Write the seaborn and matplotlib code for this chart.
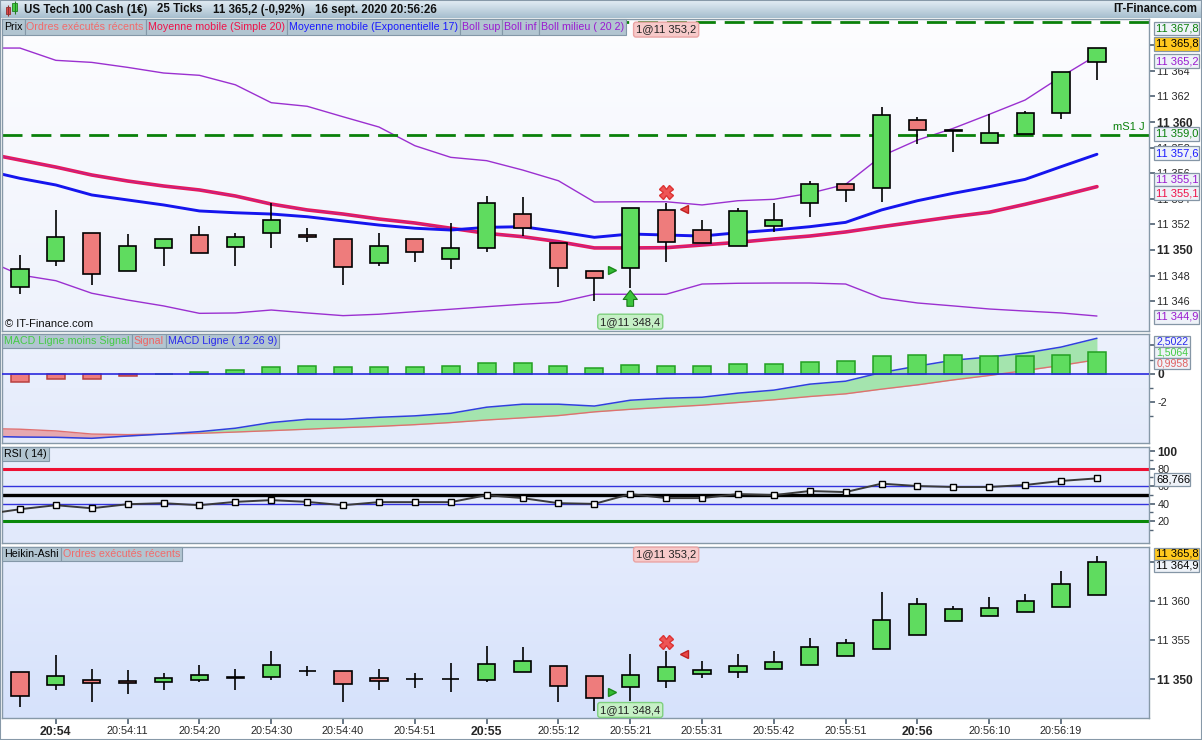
import numpy as np
import pandas as pd
import matplotlib
matplotlib.use("Agg")
import matplotlib.pyplot as plt
import seaborn as sns
from matplotlib.colors import LinearSegmentedColormap
from matplotlib.patches import Rectangle
from matplotlib.transforms import blended_transform_factory as blend

W, H = 1202, 740

# ---- price candles (25 ticks) ----
open_p = [11347.09, 11349.12, 11351.33, 11348.34, 11350.13, 11351.15, 11350.21, 11351.30,
          11351.15, 11350.84, 11349.00, 11350.84, 11349.27, 11350.13, 11352.81, 11350.52,
          11348.34, 11348.57, 11353.10, 11351.54, 11350.29, 11351.85, 11353.65, 11355.13,
          11354.82, 11360.13, 11359.28, 11358.34, 11359.09, 11360.68, 11364.66]
high_p = [11349.60, 11353.10, 11351.33, 11351.25, 11350.83, 11351.87, 11351.33, 11353.65,
          11351.70, 11350.84, 11351.33, 11350.84, 11352.13, 11354.24, 11354.16, 11350.52,
          11348.34, 11353.26, 11353.70, 11352.34, 11353.26, 11353.67, 11355.39, 11355.13,
          11361.17, 11360.37, 11359.36, 11360.60, 11360.86, 11363.88, 11365.76]
low_p = [11346.60, 11348.75, 11347.30, 11348.34, 11348.75, 11349.74, 11348.75, 11350.13,
         11350.60, 11347.30, 11348.75, 11349.09, 11348.54, 11349.82, 11351.09, 11347.13,
         11346.04, 11347.05, 11349.09, 11350.52, 11350.29, 11351.40, 11352.60, 11353.77,
         11353.77, 11358.30, 11357.68, 11358.34, 11359.09, 11360.20, 11363.28]
close_p = [11348.49, 11350.99, 11348.10, 11350.29, 11350.83, 11349.74, 11350.99, 11352.32,
           11350.99, 11348.70, 11350.29, 11349.82, 11350.13, 11353.65, 11351.69, 11348.57,
           11347.79, 11353.26, 11350.60, 11350.52, 11353.02, 11352.32, 11355.13, 11354.66,
           11360.52, 11359.35, 11359.36, 11359.12, 11360.68, 11363.88, 11365.76]

# indicator lines, first value is the bar before the visible window
sma20 = [11357.58, 11357.03, 11356.48, 11355.86, 11355.39, 11355.00, 11354.69, 11354.22,
         11353.59, 11353.13, 11352.81, 11352.42, 11352.11, 11351.70, 11351.30, 11351.04,
         11350.65, 11350.16, 11350.16, 11350.18, 11350.39, 11350.60, 11350.86, 11351.09,
         11351.41, 11351.82, 11352.21, 11352.60, 11352.95, 11353.57, 11354.24, 11354.95]
ema17 = [11356.25, 11355.60, 11355.08, 11354.30, 11353.91, 11353.52, 11353.05, 11352.91,
         11352.81, 11352.60, 11352.27, 11351.95, 11351.70, 11351.56, 11351.77, 11351.82,
         11351.43, 11350.99, 11351.25, 11351.17, 11351.09, 11351.35, 11351.56, 11351.82,
         11352.16, 11353.13, 11353.85, 11354.43, 11354.95, 11355.52, 11356.51, 11357.48]
boll_sup = [11365.78, 11365.78, 11364.82, 11364.66, 11364.27, 11363.83, 11363.65, 11362.91,
            11361.51, 11361.23, 11360.41, 11359.61, 11358.15, 11357.24, 11356.98, 11356.25,
            11355.41, 11353.75, 11353.77, 11353.77, 11353.52, 11353.85, 11353.96, 11354.43,
            11355.13, 11357.34, 11358.59, 11359.51, 11360.60, 11361.72, 11363.54, 11365.23]
boll_inf = [11349.30, 11348.05, 11347.60, 11346.62, 11346.09, 11345.63, 11345.05, 11345.08,
            11345.31, 11345.08, 11344.87, 11344.98, 11345.18, 11345.37, 11345.57, 11345.76,
            11345.91, 11346.54, 11346.54, 11346.54, 11347.34, 11347.40, 11347.42, 11347.42,
            11347.34, 11346.25, 11345.86, 11345.63, 11345.39, 11345.23, 11345.08, 11344.84]

buy_price = 11348.4
sell_price = 11353.2
level_top = 11367.8
level_ms1 = 11359.0

# ---- MACD (12 26 9) ----
macd_hist = [-0.59, -0.40, -0.40, -0.19, 0.0, 0.14, 0.28, 0.49, 0.56, 0.49, 0.49, 0.49,
             0.56, 0.75, 0.75, 0.56, 0.40, 0.61, 0.54, 0.54, 0.68, 0.68, 0.82, 0.89,
             1.25, 1.32, 1.32, 1.25, 1.25, 1.32, 1.51]
macd_line = [-4.40, -4.45, -4.47, -4.54, -4.38, -4.24, -4.07, -3.83, -3.43, -3.20, -3.20,
             -3.06, -2.96, -2.78, -2.35, -2.14, -2.14, -2.27, -1.86, -1.72, -1.65, -1.36,
             -1.15, -0.73, -0.52, 0.09, 0.54, 0.96, 1.18, 1.46, 1.88, 2.50]
macd_signal = [-3.85, -3.90, -4.02, -4.24, -4.28, -4.24, -4.19, -4.10, -4.00, -3.90, -3.79,
               -3.70, -3.58, -3.43, -3.25, -3.10, -2.94, -2.68, -2.50, -2.35, -2.21, -2.02,
               -1.83, -1.60, -1.41, -1.08, -0.78, -0.43, -0.12, 0.23, 0.59, 0.99]

# ---- RSI (14) ----
rsi = [27.5, 33.5, 38.1, 34.6, 39.2, 40.4, 38.1, 41.9, 43.9, 41.9, 38.1, 41.6, 41.6, 41.6,
       49.6, 46.2, 40.4, 39.6, 50.8, 46.2, 46.2, 50.8, 49.6, 54.3, 53.1, 62.7, 60.0, 58.9,
       58.9, 61.2, 65.8, 68.77]

# ---- Heikin-Ashi ----
ha_open = [11350.89, 11349.32, 11349.87, 11349.78, 11349.61, 11349.87, 11350.27, 11350.25,
           11351.02, 11351.02, 11350.12, 11350.08, 11350.00, 11349.95, 11350.89, 11351.65,
           11350.38, 11348.98, 11349.74, 11350.63, 11350.89, 11351.27, 11351.78, 11352.93,
           11353.82, 11355.61, 11357.48, 11358.12, 11358.63, 11359.26, 11360.71]
ha_high = [11350.89, 11353.10, 11351.27, 11351.19, 11350.80, 11351.82, 11351.31, 11353.61,
           11351.65, 11351.02, 11351.27, 11350.76, 11352.08, 11354.25, 11354.12, 11351.65,
           11350.38, 11353.23, 11353.61, 11352.33, 11353.23, 11353.61, 11355.27, 11355.14,
           11361.14, 11360.37, 11359.35, 11360.50, 11360.88, 11363.81, 11365.73]
ha_low = [11346.47, 11348.68, 11347.15, 11348.17, 11348.68, 11349.61, 11348.68, 11349.95,
          11350.46, 11347.15, 11348.68, 11348.93, 11348.42, 11349.70, 11350.89, 11347.06,
          11346.00, 11347.27, 11348.93, 11350.21, 11350.21, 11351.27, 11351.78, 11352.93,
          11353.82, 11355.61, 11357.48, 11358.12, 11358.63, 11359.26, 11360.71]
ha_close = [11347.83, 11350.38, 11349.49, 11349.49, 11350.12, 11350.51, 11350.15, 11351.78,
            11351.02, 11349.36, 11349.74, 11350.00, 11350.00, 11351.91, 11352.29, 11349.10,
            11347.57, 11350.51, 11351.53, 11351.14, 11351.65, 11352.16, 11354.08, 11354.59,
            11357.52, 11359.56, 11358.92, 11359.05, 11359.95, 11362.11, 11364.92]

time_labels = ["20:54", "20:54:11", "20:54:20", "20:54:30", "20:54:40", "20:54:51", "20:55",
               "20:55:12", "20:55:21", "20:55:31", "20:55:42", "20:55:51", "20:56",
               "20:56:10", "20:56:19"]

n = len(open_p)
idx = np.arange(n)
idx_ext = np.arange(-1, n)

GREEN = "#5fdc5f"
RED = "#ee7c7c"
EDGE = "#8799a8"

sns.set_theme(style="white")
plt.rcParams["font.family"] = ["Liberation Sans", "DejaVu Sans"]

fig = plt.figure(figsize=(W / 100, H / 100), dpi=100, facecolor="white")
renderer = fig.canvas.get_renderer()


def px_axes(x0, y0, x1, y1):
    return fig.add_axes([x0 / W, 1 - y1 / H, (x1 - x0) / W, (y1 - y0) / H])


def gradient(ax, top, bottom):
    cm = LinearSegmentedColormap.from_list("g", [top, bottom])
    ax.imshow(np.linspace(0, 1, 64).reshape(-1, 1), cmap=cm, aspect="auto",
              extent=(0, 1, 0, 1), transform=ax.transAxes, zorder=-5)


def style_panel(ax, ylim):
    ax.set_xlim(-0.5, 31.45)
    ax.set_ylim(*ylim)
    ax.yaxis.tick_right()
    ax.set_xticks([])
    for s in ax.spines.values():
        s.set_color(EDGE)
        s.set_linewidth(1.0)
    ax.tick_params(axis="y", which="both", direction="out", length=4, color="#556677",
                   labelsize=7.8, pad=2, right=True, left=False)
    ax.tick_params(axis="y", which="minor", length=3)


def set_labels(ax, ticks, labels, bold):
    ax.set_yticks(ticks)
    ax.set_yticklabels(labels)
    for t, lab in zip(ax.get_yticklabels(), labels):
        if lab in bold:
            t.set_fontweight("bold")
            t.set_fontsize(8.6)


def candles(ax, o, h, l, c):
    for i in range(len(o)):
        ax.vlines(i, l[i], h[i], color="black", lw=1.2, zorder=3)
        if o[i] == c[i]:
            ax.hlines(o[i], i - 0.24, i + 0.24, color="black", lw=1.2, zorder=4)
        else:
            fc = GREEN if c[i] > o[i] else RED
            ax.bar(i, abs(c[i] - o[i]), bottom=min(o[i], c[i]), width=0.48, color=fc,
                   edgecolor="black", linewidth=1.2, zorder=4)


def fmt_price(v):
    return f"{v:,.0f}".replace(",", " ")


def trades(ax, y_top, y_bot, x_mark_y):
    tr = blend(ax.transData, ax.transAxes)
    ax.text(18, y_top, "1@11 353,2", transform=tr, ha="center", va="center", fontsize=8,
            color="#222222", zorder=8,
            bbox=dict(boxstyle="round,pad=0.22", fc="#f7caca", ec="#eaa4a4", lw=1))
    ax.text(17, y_bot, "1@11 348,4", transform=tr, ha="center", va="center", fontsize=8,
            color="#222222", zorder=8,
            bbox=dict(boxstyle="round,pad=0.22", fc="#c6f0c6", ec="#7fd07f", lw=1))
    ax.plot(16.5, buy_price, marker=">", ms=6, color="#33bb33", mec="#1a8a1a", zorder=7)
    ax.plot(18.5, sell_price, marker="<", ms=6, color="#e84848", mec="#c02020", zorder=7)
    ax.plot(18, x_mark_y, marker="X", ms=10, color="#ee5555", mec="#dd3333", zorder=7)


# ---- title bar ----
ax_t = px_axes(0, 0, W, 18)
gradient(ax_t, "#e4eef5", "#a6bece")
ax_t.set_xlim(0, W)
ax_t.set_ylim(18, 0)
ax_t.axis("off")
ax_t.add_patch(Rectangle((5.5, 7), 4, 7, fc="#e04848", ec="#903030", lw=0.6))
ax_t.vlines(7.5, 5, 16, color="#903030", lw=0.8)
ax_t.add_patch(Rectangle((12, 3), 5, 8, fc="#44d044", ec="#208020", lw=0.6))
ax_t.vlines(14.5, 1, 14, color="#208020", lw=0.8)
tx = 24
for s in ["US Tech 100 Cash (1€)", "25 Ticks", "11 365,2 (-0,92%)", "16 sept. 2020 20:56:26"]:
    t = ax_t.text(tx, 9.5, s, fontsize=8.3, fontweight="bold", va="center", ha="left",
                  color="#111111")
    tx += t.get_window_extent(renderer).width + 10
ax_t.text(1197, 9.5, "IT-Finance.com", fontsize=8.3, fontweight="bold", va="center", ha="right",
          color="#111111")

# ---- price panel ----
ax_p = px_axes(2, 19, 1149, 331)
gradient(ax_p, "#fdfdff", "#eef2fc")
candles(ax_p, open_p, high_p, low_p, close_p)
sns.lineplot(x=idx_ext, y=boll_sup, ax=ax_p, color="#9b30d0", lw=1.0, zorder=2, legend=False)
sns.lineplot(x=idx_ext, y=boll_inf, ax=ax_p, color="#9b30d0", lw=1.0, zorder=2, legend=False)
sns.lineplot(x=idx_ext, y=sma20, ax=ax_p, color="#e8185a", lw=2.6, zorder=2, legend=False)
sns.lineplot(x=idx_ext, y=sma20, ax=ax_p, color="#b02a9a", lw=0.6, zorder=2, legend=False)
sns.lineplot(x=idx_ext, y=ema17, ax=ax_p, color="#1515ee", lw=2.1, zorder=2, legend=False)
ax_p.axhline(level_top, color="#0a800a", lw=2, dashes=(7.2, 3.2), zorder=2)
ax_p.axhline(level_ms1, color="#0a800a", lw=2, dashes=(7.2, 3.2), zorder=2)
ax_p.text(0.996, level_ms1 + 0.25, "mS1 J", transform=blend(ax_p.transAxes, ax_p.transData),
          ha="right", va="bottom", fontsize=8, color="#0a800a")
ax_p.annotate("", xy=(17, 11346.85), xytext=(17, 11345.6),
              arrowprops=dict(arrowstyle="simple,head_width=0.85,head_length=0.55,tail_width=0.4",
                              fc="#3cc43c", ec="#1a7a1a", lw=0.8, shrinkA=0, shrinkB=0,
                              mutation_scale=12), zorder=7)
trades(ax_p, 0.966, 0.030, 11354.55)
ax_p.text(0.003, 0.022, "© IT-Finance.com", transform=ax_p.transAxes, fontsize=8,
          ha="left", va="center", color="#111111")
style_panel(ax_p, (11343.67, 11368.05))
pticks = list(range(11346, 11367, 2))
plabels = [fmt_price(v) for v in pticks]
plabels[-1] = ""  # fully under the value boxes
set_labels(ax_p, pticks, plabels, {"11 350", "11 360"})

# ---- MACD panel ----
ax_m = px_axes(2, 334, 1149, 443)
gradient(ax_m, "#ecf1fd", "#e4ebfb")
ml = np.array(macd_line)
ms = np.array(macd_signal)
ax_m.fill_between(idx_ext, ml, ms, where=ml >= ms, interpolate=True, color="#a4e4ae", lw=0, zorder=1)
ax_m.fill_between(idx_ext, ml, ms, where=ml < ms, interpolate=True, color="#e6a8b0", lw=0, zorder=1)
sns.lineplot(x=idx_ext, y=macd_signal, ax=ax_m, color="#e07070", lw=1.0, zorder=2, legend=False)
sns.lineplot(x=idx_ext, y=macd_line, ax=ax_m, color="#3040dd", lw=1.1, zorder=2, legend=False)
hcol = [GREEN if v >= 0 else RED for v in macd_hist]
hedge = ["#22a022" if v >= 0 else "#b84040" for v in macd_hist]
ax_m.bar(idx, macd_hist, width=0.5, color=hcol, edgecolor=hedge, linewidth=1.1, zorder=3)
ax_m.axhline(0, color="#2828dd", lw=1.2, zorder=4)
style_panel(ax_m, (-4.87, 2.8))
set_labels(ax_m, [-2, 0, 2], ["-2", "0", ""], {"0"})
ax_m.set_yticks([-3, -1, 1], minor=True)

# ---- RSI panel ----
ax_r = px_axes(2, 447, 1149, 543)
gradient(ax_r, "#e9effd", "#e1e9fb")
ax_r.axhline(80, color="#ee1133", lw=2.2, zorder=1)
ax_r.axhline(60, color="#3333dd", lw=1.0, zorder=1)
ax_r.axhline(40, color="#3333dd", lw=1.0, zorder=1)
ax_r.axhline(50, color="black", lw=2.4, zorder=1)
ax_r.axhline(20, color="#0a880a", lw=2.2, zorder=1)
sns.lineplot(x=idx_ext, y=rsi, ax=ax_r, color="#3a3a3a", lw=1.4, zorder=3, legend=False,
             marker="s", markersize=5, markerfacecolor="white", markeredgecolor="black",
             markeredgewidth=1.0)
style_panel(ax_r, (-5.1, 104.6))
set_labels(ax_r, [20, 40, 60, 80, 100], ["20", "40", "60", "80", "100"], {"100"})
ax_r.set_yticks([10, 30, 50, 70, 90], minor=True)

# ---- Heikin-Ashi panel ----
ax_h = px_axes(2, 547, 1149, 718)
gradient(ax_h, "#e4ebfd", "#d6e2fb")
candles(ax_h, ha_open, ha_high, ha_low, ha_close)
trades(ax_h, 0.956, 0.047, 11354.8)
style_panel(ax_h, (11345.06, 11366.88))
set_labels(ax_h, [11350, 11355, 11360, 11365], ["11 350", "11 355", "11 360", ""], {"11 350"})
ax_h.set_xticks(np.arange(1, n, 2))
ax_h.set_xticklabels(time_labels)
ax_h.tick_params(axis="x", direction="out", length=4, color="#556677", labelsize=7.8, pad=2,
                 bottom=True)
for t in ax_h.get_xticklabels():
    if len(t.get_text()) == 5:
        t.set_fontweight("bold")
        t.set_fontsize(8.8)


# ---- legend tabs ----
def tabs(y0, y1, items, x=2):
    for s, c in items:
        t = fig.text((x + 2) / W, 1 - (y0 + y1) / 2 / H, s, color=c, fontsize=7.7, va="center",
                     ha="left", zorder=6)
        w = t.get_window_extent(renderer).width
        fig.add_artist(Rectangle((x / W, 1 - y1 / H), (w + 4) / W, (y1 - y0) / H,
                                 transform=fig.transFigure, fc="#b2c5d1", ec="#8498a8",
                                 lw=0.8, zorder=5))
        x += w + 4


tabs(19, 35, [("Prix", "black"), ("Ordres exécutés récents", "#f26a6a"),
              ("Moyenne mobile (Simple 20)", "#ee1148"),
              ("Moyenne mobile (Exponentielle 17)", "#1a1aff"),
              ("Boll sup", "#9a1ad0"), ("Boll inf", "#9a1ad0"),
              ("Boll milieu ( 20 2)", "#9a1ad0")])
tabs(334, 348, [("MACD Ligne moins Signal", "#44cc44"), ("Signal", "#f06464"),
                ("MACD Ligne ( 12 26 9)", "#2a2aee")])
tabs(447, 461, [("RSI ( 14)", "black")])
tabs(547, 561, [("Heikin-Ashi", "black"), ("Ordres exécutés récents", "#f26a6a")])

# ---- value boxes on the right scale ----
boxes = [
    (28.5, "11 367,8", "#0a800a", "#eef2f8", 1199, 13),
    (44, "11 365,8", "black", "#ffc81e", 1199, 13),
    (61, "11 365,2", "#9a1ad0", "#eef2f8", 1199, 13),
    (134, "11 359,0", "#0a800a", "#eef2f8", 1199, 13),
    (153, "11 357,6", "#1a1aff", "#eef2f8", 1199, 13),
    (179.5, "11 355,1", "#9a1ad0", "#eef2f8", 1199, 13),
    (193, "11 355,1", "#ee1148", "#eef2f8", 1199, 13),
    (317, "11 344,9", "#9a1ad0", "#eef2f8", 1199, 13),
    (341.5, "2,5022", "#2a2aee", "#eef2f8", 1190, 11),
    (352.5, "1,5064", "#44cc44", "#eef2f8", 1190, 11),
    (363.5, "0,9958", "#e06060", "#eef2f8", 1190, 11),
    (479, "68,766", "black", "#eef2f8", 1190, 13),
    (554, "11 365,8", "black", "#ffc81e", 1199, 12),
    (566, "11 364,9", "black", "#eef2f8", 1199, 12),
]
for k, (yc, s, col, fc, x1, bh) in enumerate(boxes):
    z = 7 + 0.02 * k
    fig.add_artist(Rectangle((1154 / W, 1 - (yc + bh / 2) / H), (x1 - 1154) / W, bh / H,
                             transform=fig.transFigure, fc=fc, ec="#8596a6", lw=0.9, zorder=z))
    fig.text(1156.5 / W, 1 - yc / H, s, color=col, fontsize=8 if bh > 11 else 7.6,
             va="center", ha="left", zorder=z + 0.01)

fig.add_artist(Rectangle((0, 0), 1, 1, transform=fig.transFigure, fill=False, ec=EDGE, lw=1.5,
                         zorder=10))

fig.savefig("out.png", dpi=100, facecolor="white")
